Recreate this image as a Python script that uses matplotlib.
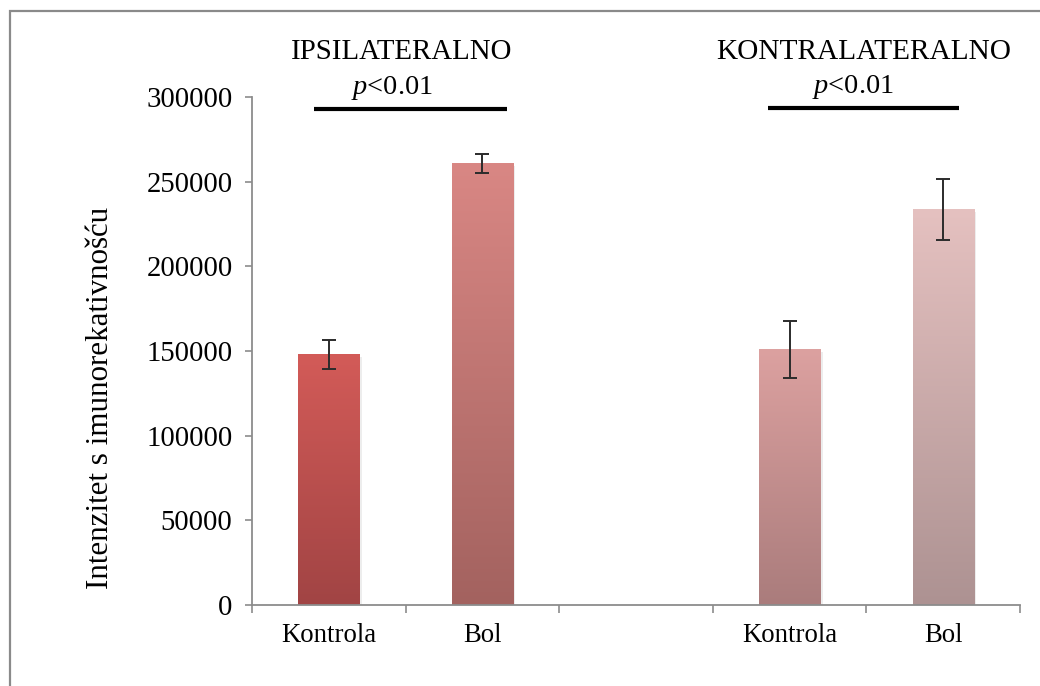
import numpy as np
import matplotlib
matplotlib.use("Agg")
import matplotlib.pyplot as plt
from matplotlib.colors import LinearSegmentedColormap
from matplotlib.patches import Rectangle

plt.rcParams['font.family'] = ['Liberation Serif', 'DejaVu Serif']
plt.rcParams['mathtext.fontset'] = 'custom'
plt.rcParams['mathtext.it'] = 'Liberation Serif:italic'
plt.rcParams['mathtext.rm'] = 'Liberation Serif'

# data
categories = ["Kontrola", "Bol", "", "Kontrola", "Bol"]
bar_slots = [0, 1, 3, 4]
values = [148000, 260500, 151000, 233500]
errors = [8500, 5600, 17000, 18000]
groups = ["IPSILATERALNO", "KONTRALATERALNO"]
sig_text = r"$p$<0.01"

# top / bottom colours of each bar's gradient
top_colors = ["#d35b58", "#d98784", "#dca1a0", "#e5c1c0"]
bottom_colors = ["#a14444", "#a3625f", "#aa7c7c", "#ad9292"]

fig = plt.figure(figsize=(10.4, 6.86), dpi=100)
ax = fig.add_axes([0.2423, 0.1181, 0.7385, 0.7405])

bar_w = 0.4
grad = np.linspace(0, 1, 256).reshape(-1, 1)
for x, v, e, ct, cb in zip(bar_slots, values, errors, top_colors, bottom_colors):
    cmap = LinearSegmentedColormap.from_list("g", [cb, ct])
    # soft shadow
    ax.add_patch(Rectangle((x - bar_w / 2 + 0.015, -1500), bar_w, v, color="#000000",
                           alpha=0.07, lw=0, zorder=1))
    ax.imshow(grad, cmap=cmap, origin="lower", aspect="auto",
              extent=(x - bar_w / 2, x + bar_w / 2, 0, v), zorder=2)
    ax.errorbar(x, v, yerr=e, fmt="none", ecolor="#2b2b2b", elinewidth=1.4,
                capsize=5, capthick=1.4, zorder=3)

ax.set_xlim(-0.5, 4.5)
ax.set_ylim(0, 300000)
ax.set_yticks(np.arange(0, 300001, 50000))
ax.set_xticks(range(len(categories)))
ax.set_xticklabels(categories)
ax.set_xticks(np.arange(-0.5, 4.6, 1), minor=True)

for s in ["top", "right"]:
    ax.spines[s].set_visible(False)
for s in ["left", "bottom"]:
    ax.spines[s].set_color("#8c8c8c")
    ax.spines[s].set_linewidth(1.3)

ax.tick_params(axis="y", labelsize=20.7, length=5, width=1.2, color="#8c8c8c", pad=9)
ax.tick_params(axis="x", which="major", labelsize=19.3, length=0, pad=13)
ax.tick_params(axis="x", which="minor", length=6, width=1.2, color="#8c8c8c")

fig.text(101 / 1040, 0.4206, "Intenzitet s imunorekativnošću", rotation=90,
         ha="center", va="center", fontsize=22.3)

# significance bars and group headings
ax.plot([-0.098, 1.157], [292900, 292900], color="black", lw=3, clip_on=False,
        solid_capstyle="butt")
ax.plot([2.856, 4.105], [293500, 293500], color="black", lw=3, clip_on=False,
        solid_capstyle="butt")
ax.text(0.477, 326500, groups[0], ha="center", va="center", fontsize=20.8, clip_on=False)
ax.text(3.48, 326500, groups[1], ha="center", va="center", fontsize=21.2, clip_on=False)
ax.text(0.41, 305600, sig_text, ha="center", va="center", fontsize=20.4, clip_on=False)
ax.text(3.41, 306000, sig_text, ha="center", va="center", fontsize=20.4, clip_on=False)

# outer frame
fig.patches.append(Rectangle((10 / 1040, -0.05), 1.2, 1 - 11 / 686 + 0.05,
                             transform=fig.transFigure, fill=False,
                             edgecolor="#8a8a8a", lw=1.6))

fig.savefig("out.png", dpi=100)
